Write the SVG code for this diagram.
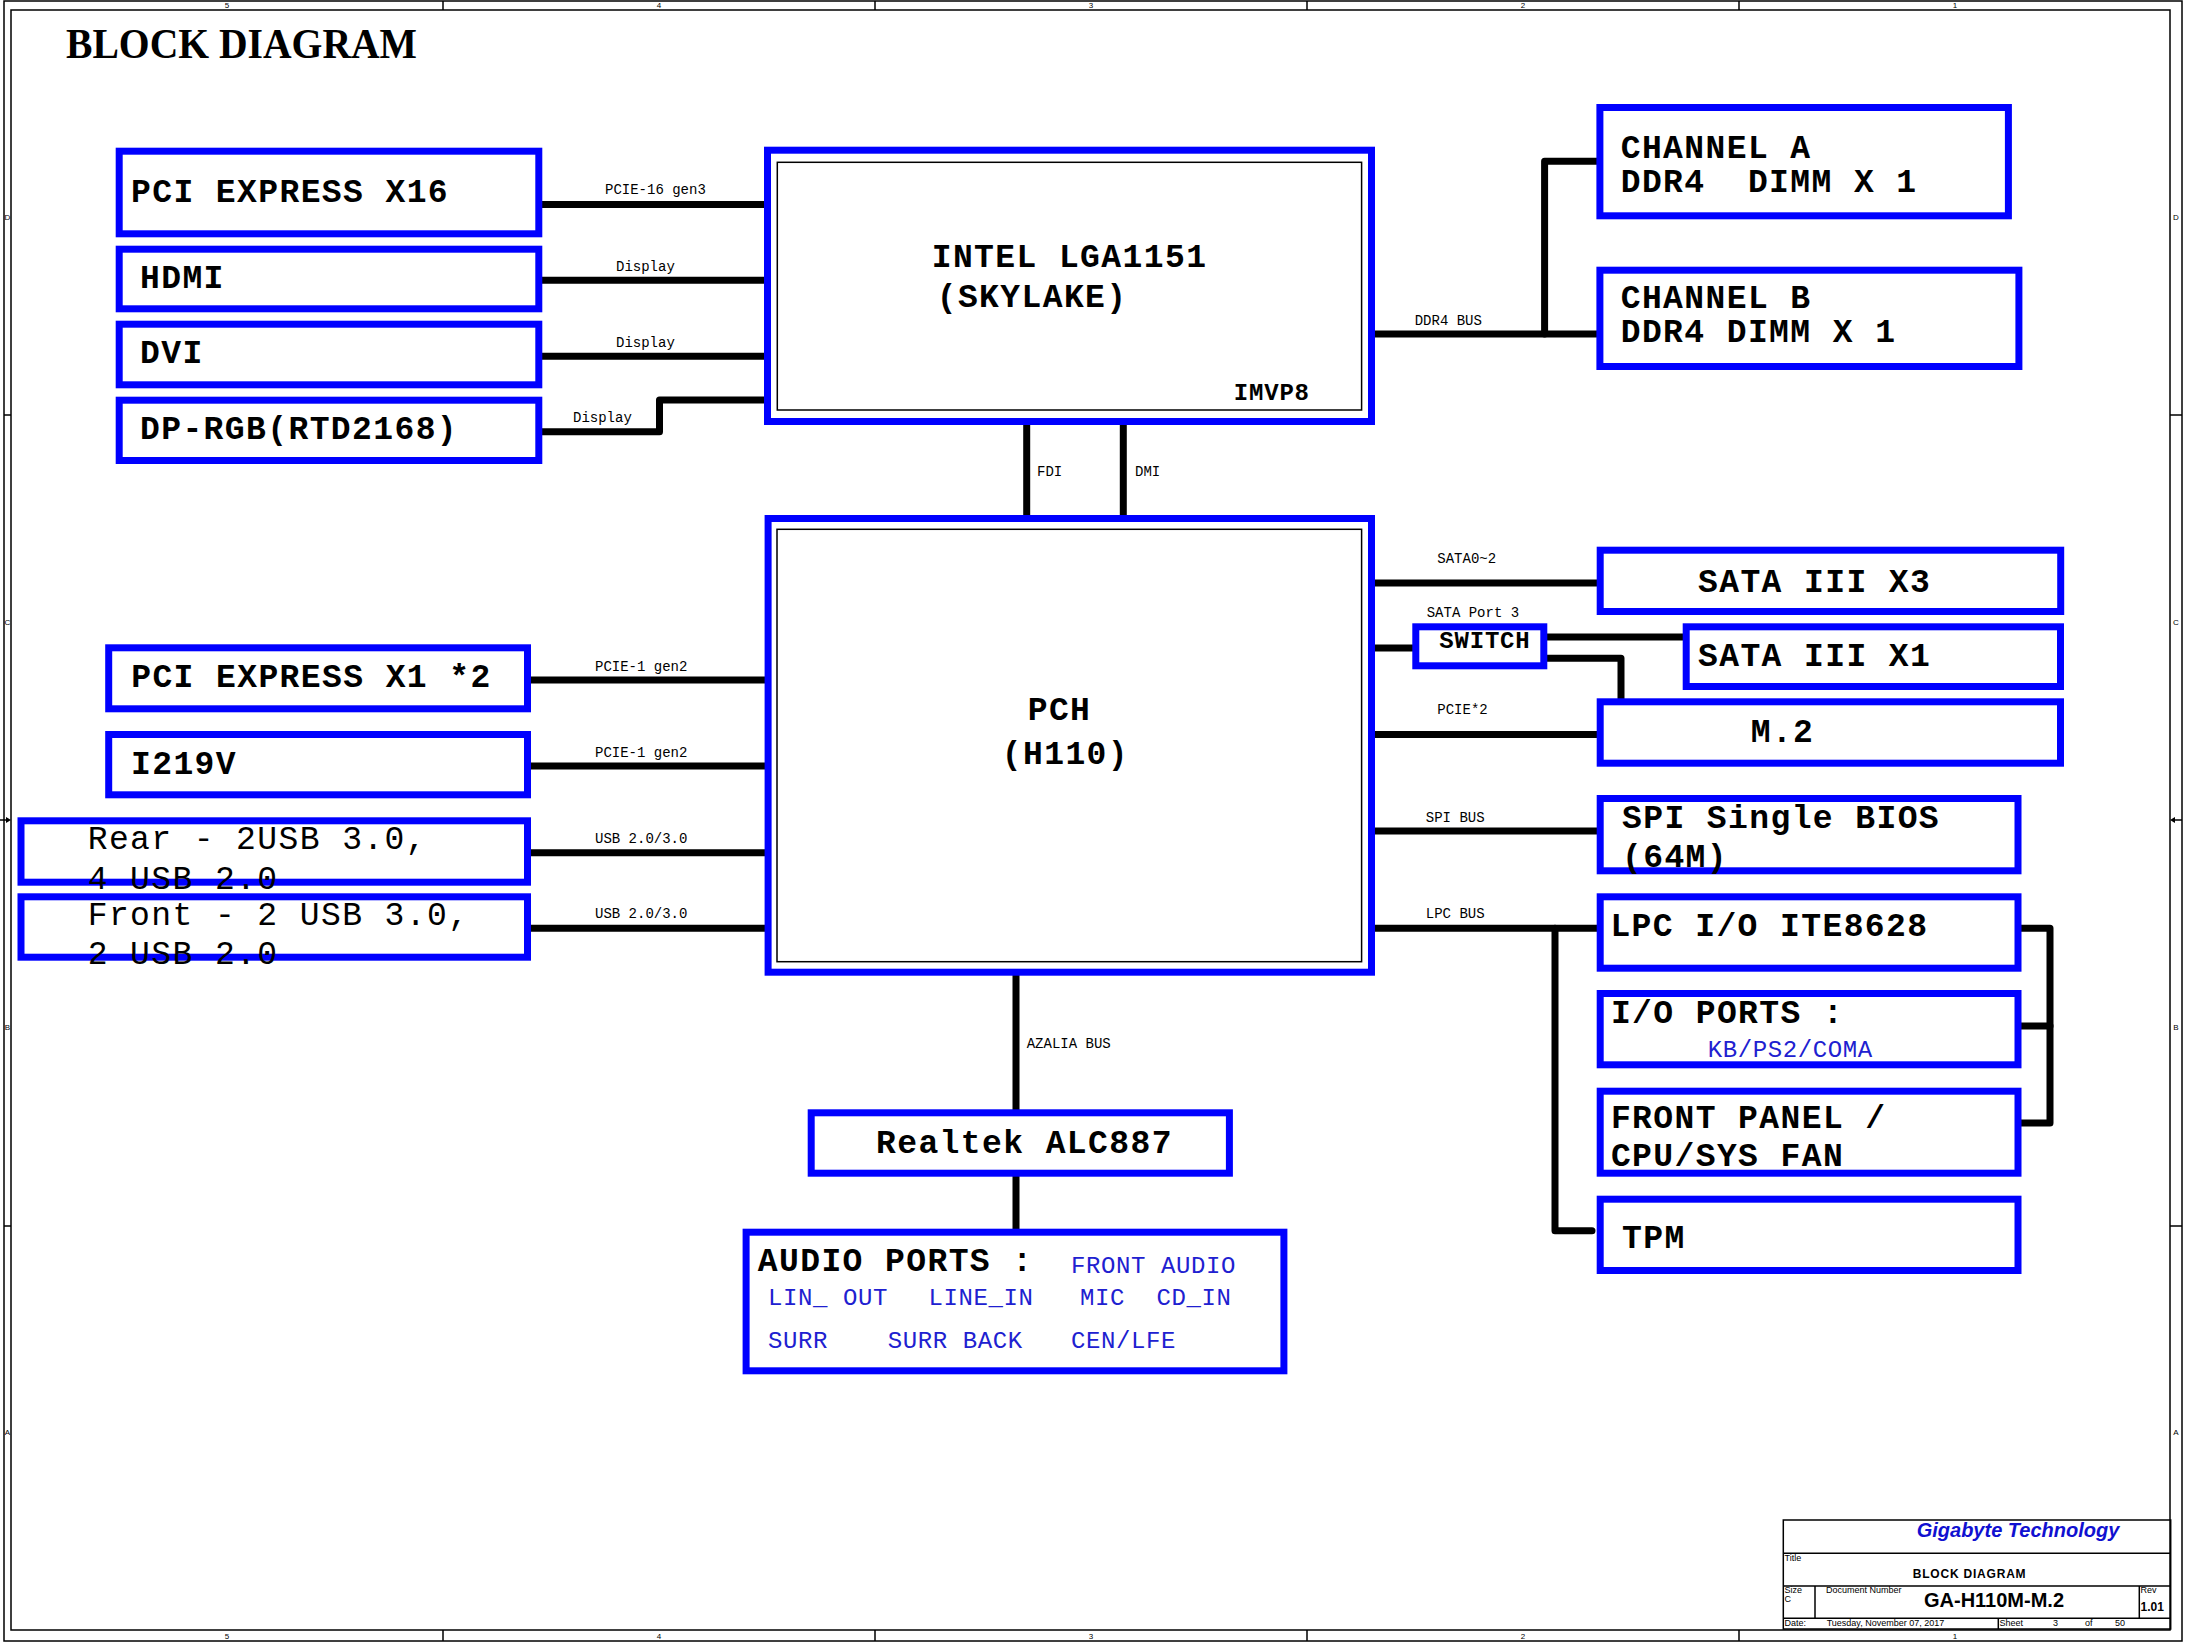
<svg xmlns="http://www.w3.org/2000/svg" width="2193" height="1643" viewBox="0 0 2193 1643">
<style>
.frame{fill:none;stroke:#000;stroke-width:1.5}
.fl{stroke:#000;stroke-width:1.5}
.box{fill:#fff;stroke:#0000ff;stroke-width:7}
.thin{fill:none;stroke:#000;stroke-width:1.5}
.wire{fill:none;stroke:#000;stroke-width:7;stroke-linecap:round;stroke-linejoin:round}
.t{font-family:"Liberation Mono","DejaVu Sans Mono",monospace;font-weight:bold;font-size:33px;letter-spacing:1.4px;fill:#000}
.tr{font-family:"Liberation Mono","DejaVu Sans Mono",monospace;font-size:33px;letter-spacing:1.4px;fill:#000}
.ts{font-family:"Liberation Mono","DejaVu Sans Mono",monospace;font-weight:bold;font-size:24px;letter-spacing:0.8px;fill:#000}
.bl{font-family:"Liberation Mono","DejaVu Sans Mono",monospace;font-size:24px;letter-spacing:0.6px;fill:#2020d0}
.lb{font-family:"Liberation Mono","DejaVu Sans Mono",monospace;font-size:14px;fill:#000}
.fr{font-family:"Liberation Sans",Arial,sans-serif;font-size:8px;fill:#000}
.tb{font-family:"Liberation Sans",Arial,sans-serif;font-size:9px;fill:#000}
</style>
<rect x="0" y="0" width="2193" height="1643" fill="#fff"/>

<g id="frame">
<rect class="frame" x="4" y="1" width="2178" height="1640"/>
<rect class="frame" x="11" y="10" width="2159" height="1620"/>
<line class="fl" x1="443" y1="1" x2="443" y2="10"/>
<line class="fl" x1="875" y1="1" x2="875" y2="10"/>
<line class="fl" x1="1307" y1="1" x2="1307" y2="10"/>
<line class="fl" x1="1739" y1="1" x2="1739" y2="10"/>
<line class="fl" x1="443" y1="1630" x2="443" y2="1641"/>
<line class="fl" x1="875" y1="1630" x2="875" y2="1641"/>
<line class="fl" x1="1307" y1="1630" x2="1307" y2="1641"/>
<line class="fl" x1="1739" y1="1630" x2="1739" y2="1641"/>
<line class="fl" x1="4" y1="415" x2="11" y2="415"/>
<line class="fl" x1="4" y1="1226" x2="11" y2="1226"/>
<line class="fl" x1="2170" y1="415" x2="2182" y2="415"/>
<line class="fl" x1="2170" y1="1226" x2="2182" y2="1226"/>
<line class="fl" x1="0" y1="820" x2="8" y2="820"/>
<path d="M11 820 L6 817 L6 823 Z" fill="#000"/>
<line class="fl" x1="2174" y1="820" x2="2182" y2="820"/>
<path d="M2170 820 L2175 817 L2175 823 Z" fill="#000"/>
<text class="fr" x="227" y="8" text-anchor="middle">5</text>
<text class="fr" x="659" y="8" text-anchor="middle">4</text>
<text class="fr" x="1091" y="8" text-anchor="middle">3</text>
<text class="fr" x="1523" y="8" text-anchor="middle">2</text>
<text class="fr" x="1955" y="8" text-anchor="middle">1</text>
<text class="fr" x="227" y="1639" text-anchor="middle">5</text>
<text class="fr" x="659" y="1639" text-anchor="middle">4</text>
<text class="fr" x="1091" y="1639" text-anchor="middle">3</text>
<text class="fr" x="1523" y="1639" text-anchor="middle">2</text>
<text class="fr" x="1955" y="1639" text-anchor="middle">1</text>
<text class="fr" x="7.5" y="220" text-anchor="middle">D</text>
<text class="fr" x="7.5" y="625" text-anchor="middle">C</text>
<text class="fr" x="7.5" y="1030" text-anchor="middle">B</text>
<text class="fr" x="7.5" y="1435" text-anchor="middle">A</text>
<text class="fr" x="2176" y="220" text-anchor="middle">D</text>
<text class="fr" x="2176" y="625" text-anchor="middle">C</text>
<text class="fr" x="2176" y="1030" text-anchor="middle">B</text>
<text class="fr" x="2176" y="1435" text-anchor="middle">A</text>
</g>

<text x="66" y="58" font-family="'Liberation Serif','Times New Roman',serif" font-weight="bold" font-size="42" textLength="351" lengthAdjust="spacingAndGlyphs">BLOCK DIAGRAM</text>

<g id="connectors">
<path class="wire" d="M542 204.5 H766"/>
<path class="wire" d="M542 280.3 H766"/>
<path class="wire" d="M542 356.3 H766"/>
<path class="wire" d="M542 431.7 H659.5 V400 H766"/>
<path class="wire" d="M1026.7 425 V515"/>
<path class="wire" d="M1123.3 425 V515"/>
<path class="wire" d="M1375 334 H1597"/>
<path class="wire" d="M1544.6 334 V161.2 H1597"/>
<path class="wire" d="M530 680 H766"/>
<path class="wire" d="M530 766 H766"/>
<path class="wire" d="M530 852.7 H766"/>
<path class="wire" d="M530 928.3 H766"/>
<path class="wire" d="M1375 583 H1597"/>
<path class="wire" d="M1375 648 H1413"/>
<path class="wire" d="M1546 637 H1683"/>
<path class="wire" d="M1546 658.3 H1621 V700"/>
<path class="wire" d="M1375 734.5 H1597"/>
<path class="wire" d="M1375 831 H1597"/>
<path class="wire" d="M1375 928.3 H1597"/>
<path class="wire" d="M1555 928.3 V1230.7 H1592"/>
<path class="wire" d="M2021 928.3 H2050 V1123 H2021"/>
<path class="wire" d="M2021 1026 H2050"/>
<path class="wire" d="M1016 975 V1110"/>
<path class="wire" d="M1016 1176 V1229"/>
<text class="lb" x="605" y="194">PCIE-16 gen3</text>
<text class="lb" x="616" y="270.7">Display</text>
<text class="lb" x="616" y="346.7">Display</text>
<text class="lb" x="573" y="421.7">Display</text>
<text class="lb" x="1037" y="476">FDI</text>
<text class="lb" x="1135" y="476">DMI</text>
<text class="lb" x="1414.7" y="325">DDR4 BUS</text>
<text class="lb" x="595" y="670.7">PCIE-1 gen2</text>
<text class="lb" x="595" y="756.7">PCIE-1 gen2</text>
<text class="lb" x="595" y="842.7">USB 2.0/3.0</text>
<text class="lb" x="595" y="918.3">USB 2.0/3.0</text>
<text class="lb" x="1437.3" y="562.7">SATA0~2</text>
<text class="lb" x="1426.7" y="616.7">SATA Port 3</text>
<text class="lb" x="1437.3" y="714">PCIE*2</text>
<text class="lb" x="1425.8" y="821.7">SPI BUS</text>
<text class="lb" x="1425.8" y="918.3">LPC BUS</text>
<text class="lb" x="1026.7" y="1048">AZALIA BUS</text>
</g>

<g id="pcie16">
<rect class="box" x="119.2" y="151.2" width="419.6" height="82.6"/>
<text class="t" x="131" y="201.7">PCI EXPRESS X16</text>
</g>
<g id="hdmi">
<rect class="box" x="119.2" y="249.2" width="419.6" height="59.6"/>
<text class="t" x="140" y="288">HDMI</text>
</g>
<g id="dvi">
<rect class="box" x="119.2" y="324.2" width="419.6" height="60.6"/>
<text class="t" x="140" y="363">DVI</text>
</g>
<g id="dprgb">
<rect class="box" x="119.2" y="400.2" width="419.6" height="60.3"/>
<text class="t" x="140" y="439">DP-RGB(RTD2168)</text>
</g>

<g id="cpu">
<rect class="box" x="767.5" y="150.2" width="604" height="271.3"/>
<rect class="thin" x="777.3" y="162.3" width="584.3" height="247.7"/>
<text class="t" x="931.7" y="266.7">INTEL LGA1151</text>
<text class="t" x="936.7" y="306.7">(SKYLAKE)</text>
<text class="ts" x="1233.8" y="400">IMVP8</text>
</g>

<g id="chA">
<rect class="box" x="1599.9" y="107.5" width="408.5" height="108.3"/>
<text class="t" x="1620.7" y="158" xml:space="preserve">CHANNEL A</text>
<text class="t" x="1620.7" y="191.7" xml:space="preserve">DDR4  DIMM X 1</text>
</g>
<g id="chB">
<rect class="box" x="1599.9" y="270.2" width="419" height="96.3"/>
<text class="t" x="1620.7" y="308.3">CHANNEL B</text>
<text class="t" x="1620.7" y="342.3">DDR4 DIMM X 1</text>
</g>

<g id="pch">
<rect class="box" x="768.1" y="518.5" width="603.4" height="453.7"/>
<rect class="thin" x="777" y="529.3" width="584.6" height="432.4"/>
<text class="t" x="1027.7" y="720">PCH</text>
<text class="t" x="1001.8" y="764">(H110)</text>
</g>

<g id="pciex1">
<rect class="box" x="108.7" y="647.8" width="418.8" height="61"/>
<text class="t" x="131.2" y="687.3">PCI EXPRESS X1 *2</text>
</g>
<g id="i219v">
<rect class="box" x="108.7" y="734.5" width="418.8" height="60.3"/>
<text class="t" x="131" y="774">I219V</text>
</g>
<g id="rearusb">
<rect class="box" x="21" y="820.8" width="506.5" height="61.4"/>
<text class="tr" x="87.7" y="849">Rear - 2USB 3.0,</text>
<text class="tr" x="87.7" y="889">4 USB 2.0</text>
</g>
<g id="frontusb">
<rect class="box" x="21" y="896.8" width="506.5" height="60.4"/>
<text class="tr" x="87.7" y="925">Front - 2 USB 3.0,</text>
<text class="tr" x="87.7" y="964">2 USB 2.0</text>
</g>

<g id="sata3">
<rect class="box" x="1600.2" y="550.2" width="460.5" height="61.3"/>
<text class="t" x="1698" y="591.7">SATA III X3</text>
</g>
<g id="switch">
<rect class="box" x="1415.8" y="626.8" width="128" height="39"/>
<text class="ts" x="1439.3" y="648.3">SWITCH</text>
</g>
<g id="sata1">
<rect class="box" x="1686.2" y="626.8" width="374.3" height="59.7"/>
<text class="t" x="1698" y="666">SATA III X1</text>
</g>
<g id="m2">
<rect class="box" x="1600.2" y="701.8" width="460.3" height="61.4"/>
<text class="t" x="1750.7" y="741.7">M.2</text>
</g>
<g id="spi">
<rect class="box" x="1600.2" y="798.5" width="417.8" height="72.3"/>
<text class="t" x="1622" y="828.3">SPI Single BIOS</text>
<text class="t" x="1622" y="866.7">(64M)</text>
</g>
<g id="lpc">
<rect class="box" x="1600.2" y="896.8" width="417.8" height="71.4"/>
<text class="t" x="1610.4" y="936">LPC I/O ITE8628</text>
</g>
<g id="ioports">
<rect class="box" x="1600.2" y="993.5" width="417.8" height="71.3"/>
<text class="t" x="1610.9" y="1022.7">I/O PORTS :</text>
<text class="bl" x="1707.8" y="1056.7">KB/PS2/COMA</text>
</g>
<g id="frontpanel">
<rect class="box" x="1600.2" y="1091.2" width="417.8" height="82"/>
<text class="t" x="1610.9" y="1128.3">FRONT PANEL /</text>
<text class="t" x="1610.9" y="1166">CPU/SYS FAN</text>
</g>
<g id="tpm">
<rect class="box" x="1600.2" y="1199.2" width="417.8" height="71.3"/>
<text class="t" x="1622" y="1248.3">TPM</text>
</g>

<g id="realtek">
<rect class="box" x="811.2" y="1112.8" width="418.2" height="60.4"/>
<text class="t" x="876" y="1153.3">Realtek ALC887</text>
</g>
<g id="audio">
<rect class="box" x="746.1" y="1232.2" width="537.8" height="138.6"/>
<text class="t" x="757.8" y="1270.7">AUDIO PORTS :</text>
<text class="bl" x="1071" y="1272.7">FRONT AUDIO</text>
<text class="bl" x="768" y="1305">LIN_ OUT</text>
<text class="bl" x="928.4" y="1305">LINE_IN</text>
<text class="bl" x="1080" y="1305">MIC</text>
<text class="bl" x="1156.5" y="1305">CD_IN</text>
<text class="bl" x="768" y="1348.3">SURR</text>
<text class="bl" x="887.7" y="1348.3">SURR BACK</text>
<text class="bl" x="1071" y="1348.3">CEN/LFE</text>
</g>

<g id="titleblock">
<rect class="frame" x="1783.3" y="1520" width="387.4" height="109"/>
<line class="fl" x1="1783.3" y1="1553.3" x2="2170.7" y2="1553.3"/>
<line class="fl" x1="1783.3" y1="1586" x2="2170.7" y2="1586"/>
<line class="fl" x1="1783.3" y1="1618.3" x2="2170.7" y2="1618.3"/>
<line class="fl" x1="1815" y1="1586" x2="1815" y2="1618.3"/>
<line class="fl" x1="2139.3" y1="1586" x2="2139.3" y2="1618.3"/>
<line class="fl" x1="1998.3" y1="1618.3" x2="1998.3" y2="1629"/>
<text x="1916.7" y="1537.3" font-family="'Liberation Sans',Arial,sans-serif" font-weight="bold" font-style="italic" font-size="20" fill="#1010d0">Gigabyte Technology</text>
<text class="tb" x="1784.5" y="1560.7">Title</text>
<text x="1912.7" y="1578.3" font-family="'Liberation Sans',Arial,sans-serif" font-weight="bold" font-size="12" letter-spacing="0.8">BLOCK DIAGRAM</text>
<text class="tb" x="1784.5" y="1593.3">Size</text>
<text class="tb" x="1784.5" y="1602">C</text>
<text class="tb" x="1826" y="1593.3">Document Number</text>
<text x="1924" y="1606.7" font-family="'Liberation Sans',Arial,sans-serif" font-weight="bold" font-size="20">GA-H110M-M.2</text>
<text class="tb" x="2140.5" y="1593.3">Rev</text>
<text x="2140.5" y="1611" font-family="'Liberation Sans',Arial,sans-serif" font-weight="bold" font-size="12">1.01</text>
<text class="tb" x="1784.5" y="1626">Date:</text>
<text class="tb" x="1826.7" y="1626">Tuesday, November 07, 2017</text>
<text class="tb" x="1999.5" y="1626">Sheet</text>
<text class="tb" x="2053" y="1626">3</text>
<text class="tb" x="2085" y="1626">of</text>
<text class="tb" x="2115" y="1626">50</text>
</g>
</svg>
